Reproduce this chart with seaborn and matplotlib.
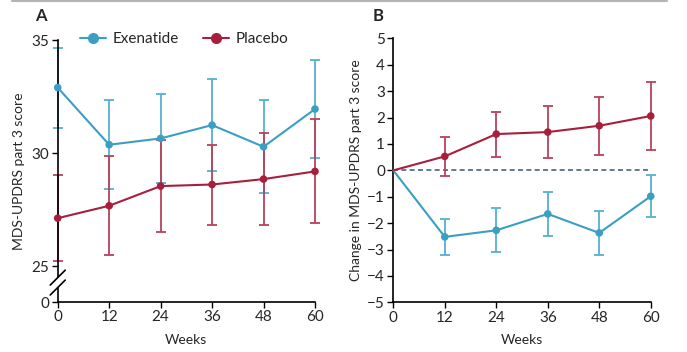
import numpy as np
import pandas as pd
import seaborn as sns
import matplotlib
import matplotlib.pyplot as plt
from matplotlib.lines import Line2D

matplotlib.use('Agg')

# Data
weeks = [0, 12, 24, 36, 48, 60]

# Panel A: absolute MDS-UPDRS part 3 score (mean, error)
exe_score = [32.9, 30.37, 30.65, 31.24, 30.28, 31.95]
exe_score_err = [1.77, 1.98, 1.98, 2.05, 2.05, 2.18]
pla_score = [27.12, 27.67, 28.54, 28.61, 28.85, 29.19]
pla_score_err = [1.91, 2.2, 2.04, 1.77, 2.02, 2.3]

# Panel B: change from baseline (mean, error)
exe_change = [0, -2.52, -2.27, -1.65, -2.37, -0.98]
exe_change_err = [0, 0.69, 0.84, 0.84, 0.82, 0.80]
pla_change = [0, 0.53, 1.375, 1.45, 1.69, 2.06]
pla_change_err = [0, 0.74, 0.85, 0.99, 1.1, 1.3]

groups = ['Exenatide', 'Placebo']
colors = {'Exenatide': '#3a9fc3', 'Placebo': '#a81f3d'}
err_colors = {'Exenatide': '#56b0d0', 'Placebo': '#b7425c'}

sns.set_style('ticks')
plt.rcParams['font.family'] = ['Lato', 'DejaVu Sans']
plt.rcParams['font.size'] = 10


def build_frame(exe, exe_err, pla, pla_err):
    df = pd.DataFrame({
        'week': weeks * 2,
        'value': exe + pla,
        'err': exe_err + pla_err,
        'group': ['Exenatide'] * len(weeks) + ['Placebo'] * len(weeks),
    })
    return df


def draw_series(ax, df, skip_baseline_marker=False):
    # error bars first so the lines sit on top
    for g in groups:
        sub = df[df['group'] == g]
        sub = sub[sub['err'] > 0]
        ax.errorbar(sub['week'], sub['value'], yerr=sub['err'], fmt='none',
                    ecolor=err_colors[g], elinewidth=1.3, capsize=3.5, capthick=1.3,
                    clip_on=False, zorder=2)
    sns.lineplot(data=df, x='week', y='value', hue='group', palette=colors,
                 linewidth=1.5, ax=ax, legend=False, zorder=3)
    pts = df[df['week'] > 0] if skip_baseline_marker else df
    sns.scatterplot(data=pts, x='week', y='value', hue='group', palette=colors,
                    s=30, edgecolor='none', ax=ax, legend=False, zorder=4, clip_on=False)
    for line in ax.lines:
        line.set_clip_on(False)


def style_axis(ax):
    sns.despine(ax=ax)
    ax.set_xlim(0, 60)
    ax.set_xticks(weeks)
    ax.set_xlabel('Weeks', labelpad=7)
    ax.tick_params(direction='out', length=4, width=1, color='black', pad=2,
                   labelsize=11)
    for s in ['left', 'bottom']:
        ax.spines[s].set_color('black')
        ax.spines[s].set_linewidth(1.2)


fig = plt.figure(figsize=(6.87, 3.52), dpi=100)
ax_a = fig.add_axes([0.084, 0.142, 0.3745, 0.744])
ax_b = fig.add_axes([0.5725, 0.141, 0.3747, 0.75])

# Panel A
df_a = build_frame(exe_score, exe_score_err, pla_score, pla_score_err)
draw_series(ax_a, df_a)
style_axis(ax_a)
y_zero = 23.41  # position standing in for 0 below the axis break
ax_a.set_ylim(y_zero, 35)
ax_a.set_yticks([y_zero, 25, 30, 35])
ax_a.set_yticklabels(['0', '25', '30', '35'])
ax_a.set_ylabel('MDS-UPDRS part 3 score', labelpad=5)

# axis break on the left spine
ax_a.spines['left'].set_bounds(24.5, 35)
ax_a.plot([0, 0], [y_zero, 24.05], color='black', lw=1.2, clip_on=False, zorder=5)
for yc in [24.49, 24.05]:
    ax_a.plot([-1.75, 1.75], [yc - 0.33, yc + 0.33], color='black', lw=1.2,
              clip_on=False, zorder=5)

handles = [Line2D([], [], color=colors[g], marker='o', markersize=7, lw=1.5)
           for g in groups]
fig.legend(handles, groups, loc='center left', bbox_to_anchor=(0.097, 1 - 39 / 352),
           ncol=2, frameon=False, handlelength=1.7, handletextpad=0.4,
           columnspacing=1.6, fontsize=11)

# Panel B
df_b = build_frame(exe_change, exe_change_err, pla_change, pla_change_err)
ax_b.axhline(0, color='#4b6577', lw=1.2, ls=(0, (3, 2)), zorder=1)
draw_series(ax_b, df_b, skip_baseline_marker=True)
style_axis(ax_b)
ax_b.set_ylim(-5, 5)
ax_b.set_yticks(range(-5, 6))
ax_b.set_yticklabels([str(v).replace('-', '\u2212') for v in range(-5, 6)])
ax_b.set_ylabel('Change in MDS-UPDRS part 3 score', labelpad=4)

# panel letters and top rule
fig.text(0.051, 1 - 16 / 352, 'A', fontsize=12, fontweight='bold', va='center')
fig.text(0.543, 1 - 16 / 352, 'B', fontsize=12, fontweight='bold', va='center')
fig.add_artist(Line2D([12 / 687, 667 / 687], [1 - 1 / 352] * 2, color='#b4b4b4', lw=1.5))

fig.savefig('out.png', dpi=100)
plt.close()
